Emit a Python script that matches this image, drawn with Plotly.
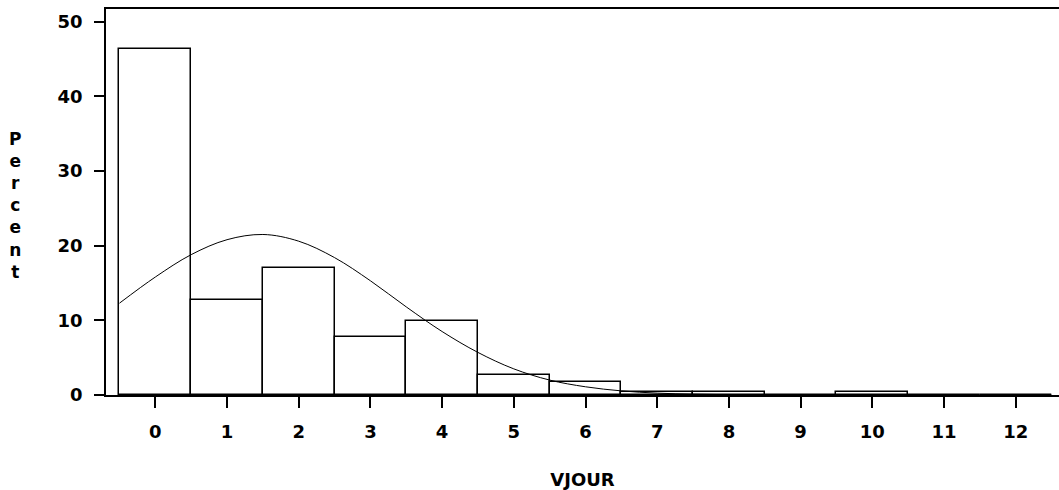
import plotly.graph_objects as go

# Histogram data (percent per VJOUR value)
categories = [0, 1, 2, 3, 4, 5, 6, 7, 8, 9, 10, 11, 12]
percents = [46.4, 12.7, 17.0, 7.8, 9.9, 2.7, 1.7, 0.45, 0.45, 0.0, 0.45, 0.0, 0.0]

# Fitted normal curve
curve_x = [-0.5, 0.0, 0.5, 1.0, 1.5, 2.0, 2.5, 3.0, 3.5, 4.0, 4.5, 5.0, 5.5,
           6.0, 6.5, 7.0, 7.5, 8.0, 8.5, 9.0, 10.0, 11.0, 12.0, 12.5]
curve_y = [12.3, 15.8, 18.8, 20.8, 21.5, 20.6, 18.4, 15.3, 11.8, 8.5, 5.7, 3.5, 2.0,
           1.1, 0.55, 0.25, 0.11, 0.04, 0.015, 0.005, 0.0, 0.0, 0.0, 0.0]

y_ticks = [0, 10, 20, 30, 40, 50]
x_ticks = categories

FONT = "DejaVu Sans"

fig = go.Figure()
fig.add_trace(go.Bar(
    x=categories, y=percents, width=1.0,
    marker=dict(color="white", line=dict(color="black", width=1.5)),
    showlegend=False, hoverinfo="skip",
))
fig.add_trace(go.Scatter(
    x=curve_x, y=curve_y, mode="lines", line=dict(color="black", width=1, shape="spline"),
    showlegend=False, hoverinfo="skip",
))

fig.update_layout(
    width=1059, height=490,
    margin=dict(l=106, r=0, t=9, b=95),
    paper_bgcolor="white", plot_bgcolor="white",
    font=dict(family=FONT, size=18, color="black"),
    bargap=0,
    xaxis=dict(
        range=[-0.688, 12.604], tickmode="array", tickvals=x_ticks,
        ticktext=[str(v) for v in x_ticks],
        ticks="outside", ticklen=11, tickwidth=1.5, tickcolor="black",
        showline=True, linecolor="black", linewidth=1.5, mirror=True,
        showgrid=False, zeroline=False,
        tickfont=dict(family=FONT, size=18, color="black", weight="bold"),
        ticklabelstandoff=9,
        title=dict(text="<b>VJOUR</b>", font=dict(family=FONT, size=18), standoff=35),
    ),
    yaxis=dict(
        range=[0, 51.7], tickmode="array", tickvals=y_ticks,
        ticktext=[str(v) for v in y_ticks],
        ticks="outside", ticklen=10, tickwidth=1.5, tickcolor="black",
        showline=True, linecolor="black", linewidth=1.5,
        showgrid=False, zeroline=False,
        tickfont=dict(family=FONT, size=18, color="black", weight="bold"),
        ticklabelstandoff=8,
    ),
    annotations=[dict(
        text="<b>P<br>e<br>r<br>c<br>e<br>n<br>t</b>",
        xref="paper", yref="paper", x=-0.095, y=0.49, xanchor="center", yanchor="middle",
        showarrow=False, font=dict(family=FONT, size=17, color="black"),
        align="center",
    )],
)

fig.write_html(
    "out.html",
    config={"displayModeBar": False},
    post_script="document.body.style.margin='0';document.body.style.overflow='hidden';",
)
